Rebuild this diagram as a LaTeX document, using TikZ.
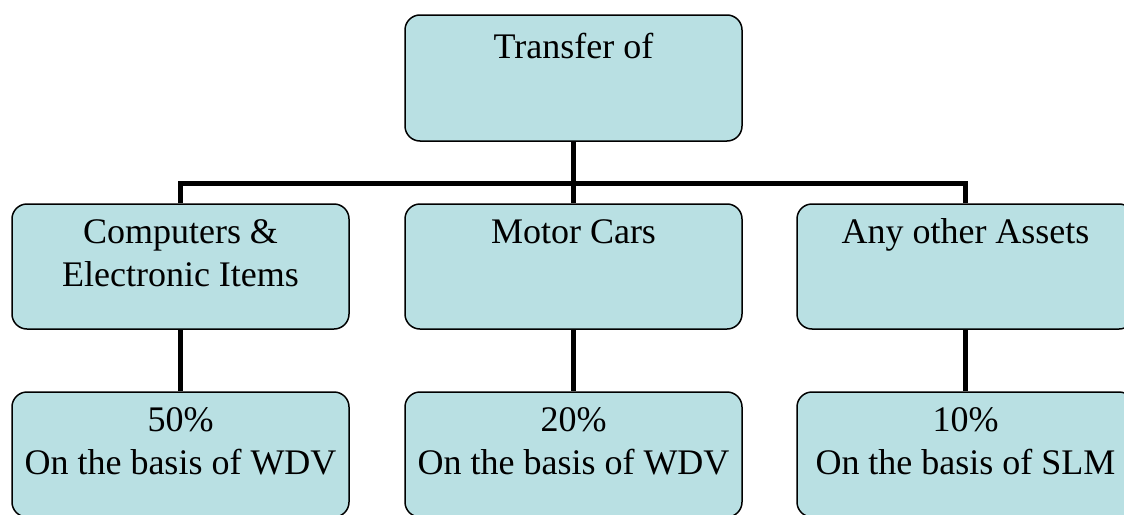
\documentclass[tikz,border=0pt]{standalone}
\usepackage{fontspec}
\setmainfont{Liberation Serif}
\definecolor{boxfill}{RGB}{185,224,227}
\begin{document}
\begin{tikzpicture}[x=1pt,y=-1pt,
  box/.style={draw=black, line width=1.5pt, fill=boxfill, rounded corners=15pt,
    minimum width=337pt, minimum height=125pt, inner sep=0pt},
  txt/.style={anchor=base, align=center, inner sep=0pt,
    font=\fontsize{36}{43}\selectfont},
  conn/.style={draw=black, line width=5pt}]
\useasboundingbox (0,0) rectangle (1124,514);
\clip (0,0) rectangle (1124,514);

% level 0
\node[box, minimum height=126pt] (top) at (573.5,78) {};
% level 1
\node[box] (mid1) at (180.5,266.5) {};
\node[box] (mid2) at (573.5,266.5) {};
\node[box] (mid3) at (965.5,266.5) {};
% level 2
\node[box] (bot1) at (180.5,454.5) {};
\node[box] (bot2) at (573.5,454.5) {};
\node[box] (bot3) at (965.5,454.5) {};

% texts (base anchor sits on the last line's baseline)
\node[txt] (ttop)  at (573.5,58)  {Transfer of};
\node[txt] (tmid1) at (180.5,286) {Computers \&\\Electronic Items};
\node[txt] (tmid2) at (573.5,243) {Motor Cars};
\node[txt] (tmid3) at (965.5,243) {Any other Assets};
\node[txt] (tbot1) at (180.5,474) {50\%\\On the basis of WDV};
\node[txt] (tbot2) at (573.5,474) {20\%\\On the basis of WDV};
\node[txt] (tbot3) at (965.5,474) {10\%\\On the basis of SLM};

% connectors
\coordinate (bus) at (573.5,183);
\draw[conn] (top.south) -- (bus);
\draw[conn] (mid1.north) |- (bus) -| (mid3.north);
\draw[conn] (bus) -- (mid2.north);
\draw[conn] (mid1.south) -- (bot1.north);
\draw[conn] (mid2.south) -- (bot2.north);
\draw[conn] (mid3.south) -- (bot3.north);
\end{tikzpicture}
\end{document}
